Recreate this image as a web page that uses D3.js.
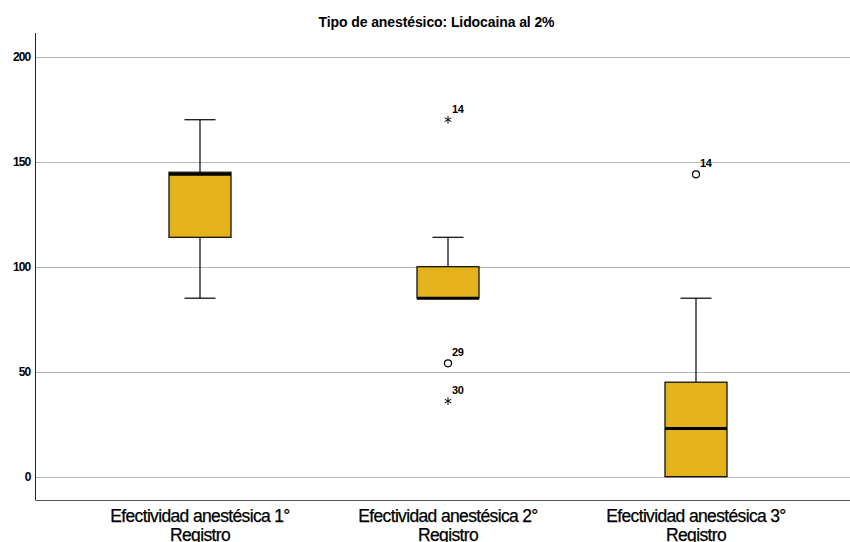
<!DOCTYPE html>
<html><head><meta charset="utf-8">
<script src="https://cdn.jsdelivr.net/npm/d3@7"></script>
<style>body{margin:0;background:#fff;} text{font-family:"Liberation Sans",Arial,sans-serif;}</style>
</head><body>
<svg id="c" width="850" height="542"></svg>
<script>
const title = "Tipo de anestésico: Lidocaina al 2%";
const categories = ["Efectividad anestésica 1° Registro","Efectividad anestésica 2° Registro","Efectividad anestésica 3° Registro"];
const whiskerLow = [85, 85, 0];
const q1 = [114, 85, 0];
const median = [144, 85, 23];
const q3 = [145, 100, 45];
const whiskerHigh = [170, 114, 85];
const outlierCat = [1, 1, 1, 2];
const outlierValue = [170, 54, 36, 144];
const outlierLabel = ["14", "29", "30", "14"];
const outlierKind = ["extreme", "outlier", "extreme", "outlier"];
const yTicks = [0, 50, 100, 150, 200];

(function () {
const svg = d3.select("#c");
const pLeft = 35.5, pRight = 850, pTop = 33, pBottom = 500;
const y = d3.scaleLinear().domain([-11.1, 211.3]).range([pBottom, pTop]);
const x = d3.scaleBand().domain(categories).range([76, 820]);
const bw = 62;

// grid
svg.append("g").selectAll("line").data(yTicks).join("line")
  .attr("x1", pLeft).attr("x2", pRight)
  .attr("y1", d => Math.round(y(d)) + 0.5).attr("y2", d => Math.round(y(d)) + 0.5)
  .attr("stroke", "#b4b4b4").attr("stroke-width", 1);

// y axis
const yAxis = svg.append("g").attr("transform", `translate(${pLeft},0)`)
  .call(d3.axisLeft(y).tickValues(yTicks).tickSize(0).tickPadding(5));
yAxis.select(".domain").remove();
yAxis.selectAll("text").attr("font-size", 12).attr("font-weight", "bold").attr("fill", "#000")
  .attr("font-family", "Liberation Sans, Arial, sans-serif").style("letter-spacing", "-0.8px");
svg.append("line").attr("x1", pLeft).attr("x2", pLeft).attr("y1", pTop).attr("y2", pBottom)
  .attr("stroke", "#222").attr("stroke-width", 1);
svg.append("line").attr("x1", pLeft).attr("x2", pRight).attr("y1", pBottom + 0.5).attr("y2", pBottom + 0.5)
  .attr("stroke", "#555").attr("stroke-width", 1.2);

// x axis labels
const xAxis = svg.append("g").attr("transform", `translate(0,${pBottom})`)
  .call(d3.axisBottom(x).tickSize(0).tickFormat(""));
xAxis.select(".domain").remove();
categories.forEach((c, i) => {
  const words = c.split(" ");
  const line1 = words.slice(0, 3).join(" ");
  const line2 = words.slice(3).join(" ");
  const cx = x(c) + x.bandwidth() / 2;
  [line1, line2].forEach((s, j) => {
    svg.append("text").attr("text-anchor", "middle").attr("font-size", 17.5)
      .style("letter-spacing", "-0.65px").attr("fill", "#000")
      .attr("stroke", "#000").attr("stroke-width", 0.25)
      .attr("x", cx).attr("y", 522 + j * 18.5).text(s);
  });
});

// title
svg.append("text").attr("x", 436.5).attr("y", 27).attr("text-anchor", "middle")
  .attr("font-size", 14).attr("font-weight", "bold").style("letter-spacing", "-0.1px")
  .text(title);

// boxes
const g = svg.append("g");
categories.forEach((c, i) => {
  const cx = x(c) + x.bandwidth() / 2;
  g.append("line").attr("x1", cx).attr("x2", cx).attr("y1", y(q3[i])).attr("y2", y(whiskerHigh[i]))
    .attr("stroke", "#000").attr("stroke-width", 1.2);
  g.append("line").attr("x1", cx).attr("x2", cx).attr("y1", y(q1[i])).attr("y2", y(whiskerLow[i]))
    .attr("stroke", "#000").attr("stroke-width", 1.2);
  g.append("line").attr("x1", cx - bw / 4).attr("x2", cx + bw / 4).attr("y1", y(whiskerHigh[i])).attr("y2", y(whiskerHigh[i]))
    .attr("stroke", "#000").attr("stroke-width", 1.2);
  g.append("line").attr("x1", cx - bw / 4).attr("x2", cx + bw / 4).attr("y1", y(whiskerLow[i])).attr("y2", y(whiskerLow[i]))
    .attr("stroke", i === 2 ? "#888" : "#000").attr("stroke-width", 1.2);
  g.append("rect").attr("x", cx - bw / 2).attr("width", bw)
    .attr("y", y(q3[i])).attr("height", y(q1[i]) - y(q3[i]))
    .attr("fill", "#e3b21d").attr("stroke", "#000").attr("stroke-width", 1.2);
  g.append("line").attr("x1", cx - bw / 2).attr("x2", cx + bw / 2).attr("y1", y(median[i])).attr("y2", y(median[i]))
    .attr("stroke", "#000").attr("stroke-width", 3);
});

// outliers
outlierValue.forEach((v, k) => {
  const c = categories[outlierCat[k]];
  const cx = x(c) + x.bandwidth() / 2;
  const cy = y(v);
  if (outlierKind[k] === "outlier") {
    g.append("circle").attr("cx", cx).attr("cy", cy).attr("r", 3.5)
      .attr("fill", "#fff").attr("stroke", "#000").attr("stroke-width", 1.2);
  } else {
    const r = 3.8;
    let p = "";
    for (let a = 0; a < 3; a++) {
      const ang = Math.PI / 2 + a * Math.PI / 3;
      p += `M${cx + r * Math.cos(ang)},${cy + r * Math.sin(ang)}L${cx - r * Math.cos(ang)},${cy - r * Math.sin(ang)}`;
    }
    g.append("path").attr("d", p).attr("stroke", "#000").attr("stroke-width", 1);
  }
  g.append("text").attr("x", cx + 4).attr("y", cy - 7).attr("font-size", 11).attr("font-weight", "bold")
    .style("letter-spacing", "-0.4px").text(outlierLabel[k]);
});
})();
</script>
</body></html>
